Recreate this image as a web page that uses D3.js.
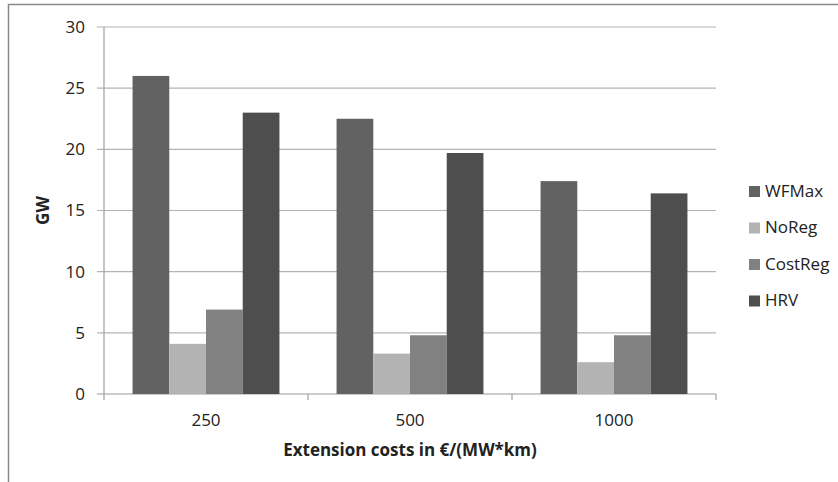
<!DOCTYPE html>
<html>
<head>
<meta charset="utf-8">
<script src="https://cdn.jsdelivr.net/npm/d3@7"></script>
<style>
body { margin: 0; background: #fff; }
text { font-family: "Open Sans", "Liberation Sans", sans-serif; fill: #222; }
</style>
</head>
<body>
<svg id="chart" width="838" height="482"></svg>
<script>
// categories and series
var categories = ["250", "500", "1000"];
var seriesNames = ["WFMax", "NoReg", "CostReg", "HRV"];
var wfmax   = [26, 22.5, 17.4];
var noreg   = [4.1, 3.3, 2.6];
var costreg = [6.9, 4.8, 4.8];
var hrv     = [23, 19.7, 16.4];
var yTicks  = [0, 5, 10, 15, 20, 25, 30];

var colors = {WFMax: "#626262", NoReg: "#b3b3b3", CostReg: "#818181", HRV: "#4e4e4e"};

var values = [wfmax, noreg, costreg, hrv];
var data = categories.map(function(c, i) {
    return {cat: c, vals: seriesNames.map(function(s, j) { return {key: s, value: values[j][i]}; })};
});

var svg = d3.select("#chart");

// outer chart frame
svg.append("rect")
    .attr("x", 8.5).attr("y", 4.5)
    .attr("width", 900).attr("height", 600)
    .attr("fill", "none")
    .attr("stroke", "#8a8a8a")
    .attr("stroke-width", 1.5);

var margin = {top: 27, left: 104};
var width = 612, height = 367;

var g = svg.append("g")
    .attr("transform", "translate(" + margin.left + "," + margin.top + ")");

var y = d3.scaleLinear().domain([0, 30]).range([height, 0]);
var x0 = d3.scaleBand().domain(categories).range([0, width]).paddingInner(0.28).paddingOuter(0.14);
var x1 = d3.scaleBand().domain(seriesNames).range([0, x0.bandwidth()]);
var xEdge = d3.scaleBand().domain(categories).range([0, width]);

// gridlines
g.selectAll(".grid")
    .data(yTicks)
    .enter().append("line")
    .attr("x1", -7).attr("x2", width)
    .attr("y1", function(d) { return y(d); })
    .attr("y2", function(d) { return y(d); })
    .attr("stroke", function(d) { return d === 0 ? "#9a9a9a" : "#b4b4b4"; })
    .attr("stroke-width", 1.2);

// y axis line
g.append("line")
    .attr("x1", 0).attr("x2", 0)
    .attr("y1", 0).attr("y2", height + 6)
    .attr("stroke", "#a0a0a0").attr("stroke-width", 1.2);

// category boundary ticks
g.selectAll(".xtick")
    .data(categories.slice(1).map(function(c) { return xEdge(c); }).concat([width]))
    .enter().append("line")
    .attr("x1", function(d) { return d; }).attr("x2", function(d) { return d; })
    .attr("y1", height).attr("y2", height + 6)
    .attr("stroke", "#a0a0a0").attr("stroke-width", 1.2);

// y tick labels
g.selectAll(".ylab")
    .data(yTicks)
    .enter().append("text")
    .attr("x", -19)
    .attr("y", function(d) { return y(d); })
    .attr("dy", "0.35em")
    .attr("text-anchor", "end")
    .style("font-size", "17px")
    .text(function(d) { return d; });

// x tick labels
g.selectAll(".xlab")
    .data(categories)
    .enter().append("text")
    .attr("x", function(d) { return xEdge(d) + xEdge.bandwidth() / 2; })
    .attr("y", height + 26)
    .attr("dy", "0.35em")
    .attr("text-anchor", "middle")
    .style("font-size", "17px")
    .text(function(d) { return d; });

// bars
var groups = g.selectAll(".grp")
    .data(data)
    .enter().append("g")
    .attr("transform", function(d) { return "translate(" + x0(d.cat) + ",0)"; });

groups.selectAll("rect")
    .data(function(d) { return d.vals; })
    .enter().append("rect")
    .attr("x", function(d) { return x1(d.key); })
    .attr("width", x1.bandwidth())
    .attr("y", function(d) { return y(d.value); })
    .attr("height", function(d) { return height - y(d.value); })
    .attr("fill", function(d) { return colors[d.key]; });

// axis titles
svg.append("text")
    .attr("x", margin.left + width / 2)
    .attr("y", 450)
    .attr("dy", "0.35em")
    .attr("text-anchor", "middle")
    .style("font-size", "17px")
    .style("font-weight", "bold")
    .text("Extension costs in €/(MW*km)");

svg.append("text")
    .attr("transform", "translate(43," + (margin.top + height / 2) + ") rotate(-90)")
    .attr("dy", "0.35em")
    .attr("text-anchor", "middle")
    .style("font-size", "17px")
    .style("font-weight", "bold")
    .text("GW");

// legend
var legend = svg.selectAll(".leg")
    .data(seriesNames)
    .enter().append("g")
    .attr("transform", function(d, i) { return "translate(749," + (191 + i * 36.5) + ")"; });

legend.append("rect")
    .attr("x", 0).attr("y", -5)
    .attr("width", 11).attr("height", 11)
    .attr("fill", function(d) { return colors[d]; });

legend.append("text")
    .attr("x", 16)
    .attr("y", 0)
    .attr("dy", "0.35em")
    .style("font-size", "17px")
    .text(function(d) { return d; });
</script>
</body>
</html>
